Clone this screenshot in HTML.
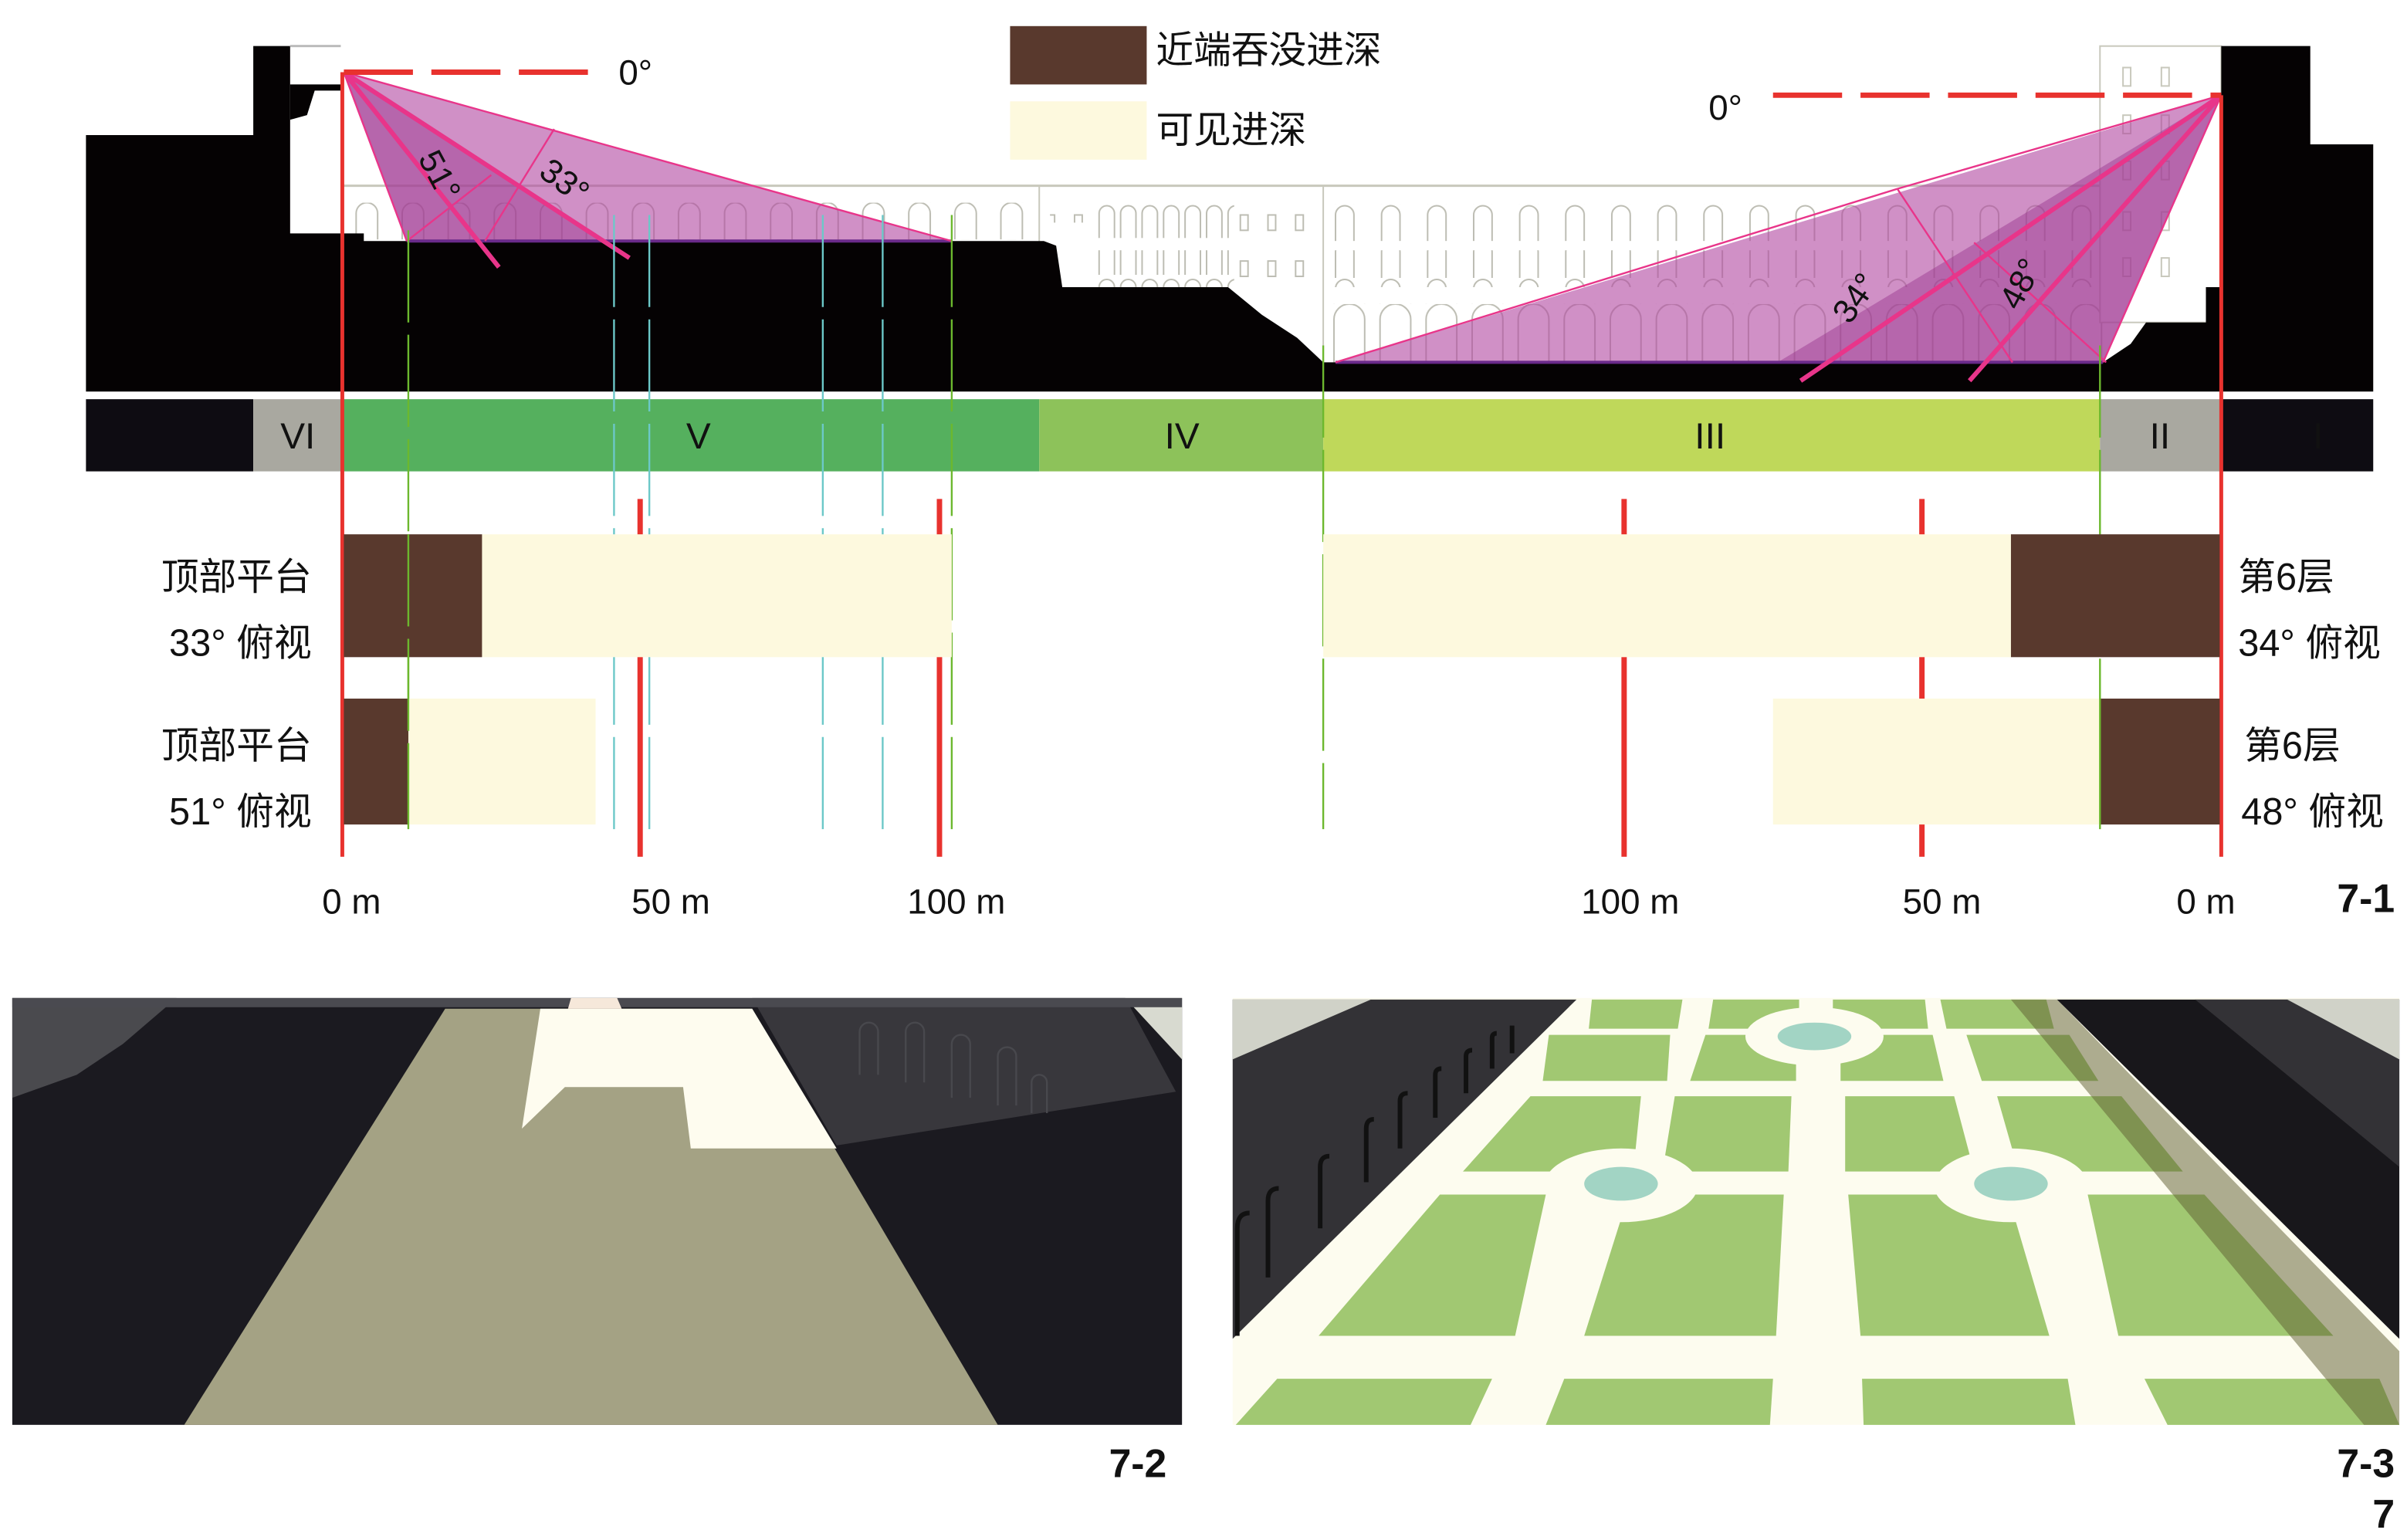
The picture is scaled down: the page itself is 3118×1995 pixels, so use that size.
<!DOCTYPE html>
<html><head><meta charset="utf-8"><style>
html,body{margin:0;padding:0;background:#fff;}
svg{display:block;}
text{font-family:"Liberation Sans Narrow","Liberation Sans","Noto Sans CJK SC",sans-serif;fill:#111;}
.cn{font-family:"Liberation Sans Narrow","Liberation Sans","Noto Sans CJK SC",sans-serif;}
</style></head><body>
<svg width="3118" height="1995" viewBox="0 0 1568 1003" preserveAspectRatio="none" xmlns="http://www.w3.org/2000/svg">
<defs>
<pattern id="a1" patternUnits="userSpaceOnUse" x="228" y="132" width="30" height="24"><path d="M4 24V7A7 7 0 0 1 18 7V24" fill="none" stroke="#bdbdb3" stroke-width="1"/></pattern>
<pattern id="a2" patternUnits="userSpaceOnUse" x="866" y="133" width="30" height="24"><path d="M4 24V7A6 6 0 0 1 16 7V24" fill="none" stroke="#bdbdb3" stroke-width="1"/></pattern>
<pattern id="a3" patternUnits="userSpaceOnUse" x="866" y="198" width="30" height="38"><path d="M3 38V10A10 10 0 0 1 23 10V38" fill="none" stroke="#bdbdb3" stroke-width="1"/></pattern>
<pattern id="a4" patternUnits="userSpaceOnUse" x="714" y="133" width="14" height="24"><path d="M2 22V6A5 5 0 0 1 12 6V22" fill="none" stroke="#bdbdb3" stroke-width="1"/></pattern>
<pattern id="r1" patternUnits="userSpaceOnUse" x="805" y="138" width="18" height="30"><rect x="3" y="2" width="5" height="10" fill="none" stroke="#bdbdb3" stroke-width="1"/></pattern>
</defs>

<line x1="223" y1="121" x2="1370" y2="121" stroke="#c8c8bc" stroke-width="1.5"/>
<line x1="677" y1="121" x2="677" y2="187" stroke="#c8c8bc"/>
<line x1="862" y1="121" x2="862" y2="236" stroke="#c8c8bc"/>
<rect x="228" y="132" width="440" height="24" fill="url(#a1)"/>
<rect x="714" y="133" width="90" height="24" fill="url(#a4)"/>
<rect x="714" y="163" width="90" height="24" fill="url(#a4)"/>
<rect x="684" y="130" width="28" height="15" fill="url(#r1)"/>
<rect x="805" y="138" width="54" height="48" fill="url(#r1)"/>
<rect x="866" y="133" width="504" height="24" fill="url(#a2)"/>
<rect x="866" y="163" width="504" height="24" fill="url(#a2)"/>
<rect x="866" y="198" width="504" height="38" fill="url(#a3)"/>
<rect x="1368" y="30" width="79" height="180" fill="#fff" stroke="#c8c8bc"/>
<g fill="none" stroke="#c8c8bc">
<rect x="1383" y="44" width="5" height="12"/><rect x="1408" y="44" width="5" height="12"/>
<rect x="1383" y="75" width="5" height="12"/><rect x="1408" y="75" width="5" height="12"/>
<rect x="1383" y="105" width="5" height="12"/><rect x="1408" y="105" width="5" height="12"/>
<rect x="1383" y="138" width="5" height="12"/><rect x="1408" y="138" width="5" height="12"/>
<rect x="1383" y="168" width="5" height="12"/><rect x="1408" y="168" width="5" height="12"/>
</g>

<polygon fill="#050203" points="56,88 165,88 165,30 189,30 189,152 237,152 237,157 680,157 688,160 692,187 800,187 822,205 845,220 862,236 1370,236 1388,224 1398,210 1437,210 1437,187 1447,187 1447,30 1505,30 1505,94 1546,94 1546,255 56,255"/>
<polygon fill="#050203" points="189,55 222,55 222,59 205,59 200,75 189,78"/>
<line x1="189" y1="30" x2="222" y2="30" stroke="#bbb" stroke-width="1.5"/>

<polygon points="224,47 620,157 265,157" fill="rgb(176,70,160)" fill-opacity="0.6"/>
<polygon points="224,47 265,157 395,157" fill="rgb(150,50,140)" fill-opacity="0.45"/>
<line x1="265" y1="157" x2="620" y2="157" stroke="#6a2a8a" stroke-width="2"/>
<g stroke="#e8358a" stroke-width="1.2" fill="none">
<line x1="224" y1="47" x2="620" y2="157"/><line x1="224" y1="47" x2="265" y2="157"/>
<line x1="361" y1="84" x2="316" y2="157"/><line x1="320" y1="114" x2="265" y2="157"/>
</g>
<g stroke="#e8358a" stroke-width="3"><line x1="224" y1="47" x2="410" y2="168"/><line x1="224" y1="47" x2="325" y2="174"/></g>
<polygon points="1447,62 870,236 1370,236" fill="rgb(176,70,160)" fill-opacity="0.6"/>
<polygon points="1447,62 1158,236 1370,236" fill="rgb(150,50,140)" fill-opacity="0.45"/>
<line x1="870" y1="236" x2="1370" y2="236" stroke="#6a2a8a" stroke-width="2"/>
<g stroke="#e8358a" stroke-width="1.2" fill="none">
<line x1="1447" y1="62" x2="1236" y2="123"/><line x1="1236" y1="123" x2="870" y2="236"/><line x1="1447" y1="62" x2="1370" y2="236"/>
<line x1="1236" y1="123" x2="1311" y2="236"/><line x1="1286" y1="158" x2="1372" y2="236"/>
</g>
<g stroke="#e8358a" stroke-width="3"><line x1="1447" y1="62" x2="1173" y2="248"/><line x1="1447" y1="62" x2="1283" y2="248"/></g>

<line x1="224" y1="47" x2="390" y2="47" stroke="#e8322e" stroke-width="3.5" stroke-dasharray="45,12"/>
<line x1="1155" y1="62" x2="1447" y2="62" stroke="#e8322e" stroke-width="3.5" stroke-dasharray="45,12"/>
<text x="403" y="55" font-size="23">0°</text>
<text x="1113" y="78" font-size="23">0°</text>
<text font-size="22" transform="translate(272,103) rotate(62)">51°</text>
<text font-size="22" transform="translate(350,114) rotate(37)">33°</text>
<text font-size="22" transform="translate(1205,212) rotate(-55)">34°</text>
<text font-size="22" transform="translate(1315,203) rotate(-62)">48°</text>

<rect x="658" y="17" width="89" height="38" fill="#59392d"/>
<rect x="658" y="66" width="89" height="38" fill="#fdf9de"/>
<text class="cn" x="753" y="41" font-size="24.5">近端吞没进深</text>
<text class="cn" x="753" y="93" font-size="24.5">可见进深</text>

<rect x="56" y="260" width="109" height="47" fill="#0e0c12"/>
<rect x="165" y="260" width="58" height="47" fill="#a9a8a0"/>
<rect x="223" y="260" width="454" height="47" fill="#55b05e"/>
<rect x="677" y="260" width="185" height="47" fill="#8dc25a"/>
<rect x="862" y="260" width="506" height="47" fill="#bfd85a"/>
<rect x="1368" y="260" width="79" height="47" fill="#a9a8a0"/>
<rect x="1447" y="260" width="99" height="47" fill="#0e0c12"/>
<g font-size="24" text-anchor="middle">
<text x="194" y="292">VI</text><text x="455" y="292">V</text><text x="770" y="292">IV</text>
<text x="1114" y="292">III</text><text x="1407" y="292">II</text><text x="1510" y="292" fill="#222">I</text>
</g>

<g stroke-width="1.2" stroke-dasharray="60,8">
<line x1="266" y1="150" x2="266" y2="540" stroke="#6cb82e"/>
<line x1="620" y1="140" x2="620" y2="540" stroke="#6cb82e"/>
<line x1="862" y1="225" x2="862" y2="540" stroke="#6cb82e"/>
<line x1="1368" y1="225" x2="1368" y2="540" stroke="#6cb82e"/>
<line x1="1447" y1="200" x2="1447" y2="250" stroke="#6cb82e"/>
<line x1="400" y1="140" x2="400" y2="540" stroke="#6cc8c8"/>
<line x1="423" y1="140" x2="423" y2="540" stroke="#6cc8c8"/>
<line x1="536" y1="140" x2="536" y2="540" stroke="#6cc8c8"/>
<line x1="575" y1="140" x2="575" y2="540" stroke="#6cc8c8"/>
</g>
<g stroke="#e8322e" stroke-width="2.5">
<line x1="223" y1="47" x2="223" y2="558"/>
<line x1="1447" y1="62" x2="1447" y2="558"/>
</g>
<g stroke="#e8322e" stroke-width="3.5">
<line x1="417" y1="325" x2="417" y2="558"/><line x1="612" y1="325" x2="612" y2="558"/>
<line x1="1058" y1="325" x2="1058" y2="558"/><line x1="1252" y1="325" x2="1252" y2="558"/>
</g>

<rect x="314" y="348" width="306" height="80" fill="#fdf9de"/>
<rect x="224" y="348" width="90" height="80" fill="#59392d"/>
<rect x="266" y="455" width="122" height="82" fill="#fdf9de"/>
<rect x="224" y="455" width="42" height="82" fill="#59392d"/>
<rect x="862" y="348" width="448" height="80" fill="#fdf9de"/>
<rect x="1310" y="348" width="136" height="80" fill="#59392d"/>
<rect x="1155" y="455" width="213" height="82" fill="#fdf9de"/>
<rect x="1368" y="455" width="78" height="82" fill="#59392d"/>
<line x1="266" y1="348" x2="266" y2="537" stroke="#6cb82e" stroke-width="1.2" stroke-dasharray="60,8"/>
<line x1="1368" y1="455" x2="1368" y2="537" stroke="#6cb82e" stroke-width="1.2"/>

<g font-size="24.5" class="cn">
<text x="203" y="384" text-anchor="end">顶部平台</text>
<text x="203" y="427" text-anchor="end">33°  俯视</text>
<text x="203" y="494" text-anchor="end">顶部平台</text>
<text x="203" y="537" text-anchor="end">51°  俯视</text>
<text x="1458" y="384">第6层</text>
<text x="1458" y="427">34°  俯视</text>
<text x="1462" y="494">第6层</text>
<text x="1460" y="537">48°  俯视</text>
</g>
<g font-size="23" text-anchor="middle">
<text x="229" y="595">0 m</text><text x="437" y="595">50 m</text><text x="623" y="595">100 m</text>
<text x="1062" y="595">100 m</text><text x="1265" y="595">50 m</text><text x="1437" y="595">0 m</text>
</g>
<text x="1560" y="594" font-size="26" font-weight="bold" text-anchor="end">7-1</text>

<!-- panel 7-2 -->
<rect x="8" y="650" width="762" height="278" fill="#1b1a20"/>
<polygon points="8,650 115,650 80,680 50,700 8,715" fill="#4a4a4e"/>
<polygon points="490,650 733,650 766,711 545,746" fill="#38373c"/>
<g fill="none" stroke="#48484d" stroke-width="1.2">
<path d="M560 700V672a6 6 0 0 1 12 0V700"/><path d="M590 705V672a6 6 0 0 1 12 0V705"/><path d="M620 715V680a6 6 0 0 1 12 0V715"/><path d="M650 720V688a6 6 0 0 1 12 0V720"/><path d="M672 725V705a5 5 0 0 1 10 0V725"/>
</g>
<polygon points="733,650 770,650 770,690" fill="#d8dad0"/>
<rect x="8" y="650" width="762" height="6" fill="#4a4a50"/>
<polygon points="290,657 490,657 650,928 120,928" fill="#a4a284"/>
<polygon points="352,657 490,657 545,748 450,748 445,708 368,708 340,735" fill="#fefcef"/>
<polygon points="372,650 402,650 405,657 370,657" fill="#f6e8da"/>
<text x="760" y="962" font-size="26" font-weight="bold" text-anchor="end">7-2</text>

<!-- panel 7-3 -->
<rect x="803" y="650" width="760" height="278" fill="#fdfcef"/>
<polygon points="803,651 1027,651 803,872" fill="#333236"/>
<polygon points="803,651 893,651 803,690" fill="#d0d2c8"/>
<g fill="none" stroke="#111" stroke-width="3">
<path d="M806 870V800q0-10 8-10"/><path d="M826 832V782q0-8 7-8"/><path d="M860 800V760q0-7 6-7"/><path d="M890 770V735q0-6 5-6"/><path d="M912 748V717q0-5 5-5"/><path d="M935 728V700q0-4 4-4"/><path d="M955 712V688q0-4 4-4"/><path d="M972 696V676q0-3 3-3"/><path d="M985 686V668"/>
</g>
<polygon points="1340,651 1563,651 1563,872" fill="#18171b"/>
<polygon points="1430,651 1563,651 1563,760" fill="#333236"/>
<polygon points="1490,651 1563,651 1563,690" fill="#d0d2c8"/>
<g fill="#a1c872">
<polygon points="1037,651 1096,651 1093,670 1035,670"/>
<polygon points="1116,651 1172,651 1172,670 1113,670"/>
<polygon points="1194,651 1254,651 1256,670 1194,670"/>
<polygon points="1264,651 1333,651 1338,670 1268,670"/>
<polygon points="1009,674 1088,674 1086,704 1005,704"/>
<polygon points="1111,674 1170,674 1170,704 1101,704"/>
<polygon points="1199,674 1259,674 1266,704 1199,704"/>
<polygon points="1281,674 1348,674 1367,704 1291,704"/>
<polygon points="997,714 1069,714 1064,763 953,763"/>
<polygon points="1091,714 1167,714 1165,763 1083,763"/>
<polygon points="1202,714 1273,714 1286,763 1202,763"/>
<polygon points="1301,714 1382,714 1422,763 1315,763"/>
<polygon points="938,778 1007,778 987,870 859,870"/>
<polygon points="1061,778 1162,778 1157,870 1032,870"/>
<polygon points="1204,778 1308,778 1335,870 1212,870"/>
<polygon points="1360,778 1436,778 1520,870 1380,870"/>
<polygon points="832,898 972,898 958,928 805,928"/>
<polygon points="1019,898 1155,898 1153,928 1007,928"/>
<polygon points="1213,898 1347,898 1352,928 1214,928"/>
<polygon points="1397,898 1550,898 1563,928 1412,928"/>
</g>
<g>
<ellipse cx="1182" cy="675" rx="45" ry="19" fill="#fdfcef"/><ellipse cx="1182" cy="675" rx="24" ry="9" fill="#a2d4c4"/>
<ellipse cx="1056" cy="772" rx="50" ry="24" fill="#fdfcef"/><ellipse cx="1056" cy="771" rx="24" ry="11" fill="#a2d4c4"/>
<ellipse cx="1310" cy="772" rx="50" ry="24" fill="#fdfcef"/><ellipse cx="1310" cy="771" rx="24" ry="11" fill="#a2d4c4"/>
</g>
<polygon points="1310,651 1340,651 1563,880 1563,928 1540,928" fill="#5e5b30" fill-opacity="0.5"/>
<text x="1560" y="962" font-size="26" font-weight="bold" text-anchor="end">7-3</text>
<text x="1560" y="995" font-size="26" font-weight="bold" text-anchor="end">7</text>
</svg>
</body></html>
